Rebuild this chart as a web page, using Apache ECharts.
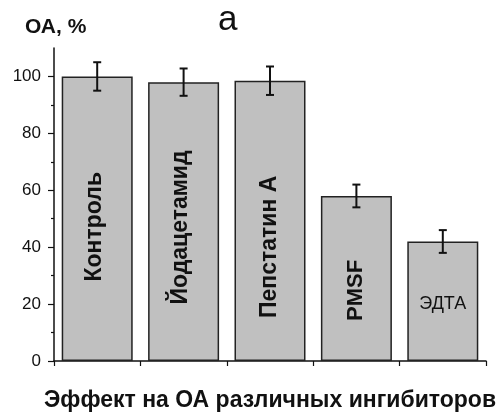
<!DOCTYPE html>
<html>
<head>
<meta charset="utf-8">
<script src="https://cdn.jsdelivr.net/npm/echarts@6/dist/echarts.min.js"></script>
<style>
  html, body { margin: 0; padding: 0; background: #fff; }
  #chart { width: 502px; height: 417px; }
</style>
</head>
<body>
<div id="chart"></div>
<script>
// Inhibitor effect on activity (ОА, % of control)
const categories = ['Контроль', 'Йодацетамид', 'Пепстатин А', 'PMSF', 'ЭДТА'];
const activity = [100, 98, 98.5, 58, 42];
const errors = [5, 4.8, 5, 4, 4];
const yLabelTicks = [0, 20, 40, 60, 80, 100];
const yMinorTicks = [10, 30, 50, 70, 90];

const FONT = 'Liberation Sans, Arial, sans-serif';

// per-bar label placement inside the bars (offset is in the rotated frame:
// negative x moves a vertical label down the bar, negative y moves it left)
const labelStyles = [
  { rotate: 90, offset: [-8, -3], fontWeight: 'bold', fontSize: 23 },
  { rotate: 90, offset: [-6, -3], fontWeight: 'bold', fontSize: 23 },
  { rotate: 90, offset: [-26, 0], fontWeight: 'bold', fontSize: 23 },
  { rotate: 90, offset: [-12, 0], fontWeight: 'bold', fontSize: 22 },
  { rotate: 0, offset: [0, 3], fontWeight: 'normal', fontSize: 18 }
];

const barData = activity.map((v, i) => ({
  value: v,
  label: Object.assign({ show: true, position: 'inside', color: '#111', fontFamily: FONT }, labelStyles[i], {
    formatter: categories[i]
  })
}));

const errData = activity.map((v, i) => [i, v - errors[i], v + errors[i]]);

const chart = echarts.init(document.getElementById('chart'), null, { renderer: 'canvas' });
chart.setOption({
  backgroundColor: '#fff',
  animation: false,
  title: [
    { text: 'ОА, %', left: 20, top: 12,
      textStyle: { fontFamily: FONT, fontSize: 21, fontWeight: 'bold', color: '#111' } },
    { text: 'a', left: 213, top: -2,
      textStyle: { fontFamily: FONT, fontSize: 35, fontWeight: 'normal', color: '#111' } }
  ],
  grid: { left: 54, right: 16, top: 48, bottom: 49, containLabel: false },
  xAxis: {
    type: 'category',
    data: categories,
    boundaryGap: true,
    axisLine: { show: true, lineStyle: { color: '#111', width: 1.5 } },
    axisTick: { show: true, interval: 0, alignWithLabel: false, length: 5, lineStyle: { color: '#111', width: 1.2 } },
    axisLabel: { show: false },
    name: 'Эффект на ОА различных ингибиторов',
    nameLocation: 'middle',
    nameGap: 28,
    nameTextStyle: { fontFamily: FONT, fontSize: 23, fontWeight: 'bold', color: '#111' }
  },
  yAxis: [
    {
      type: 'value', min: 0, max: 110,
      axisLine: { show: true, lineStyle: { color: '#111', width: 1.5 } },
      axisTick: { show: true, length: 6, customValues: yLabelTicks, lineStyle: { color: '#111', width: 1.2 } },
      axisLabel: { show: true, customValues: yLabelTicks, margin: 13,
        fontFamily: FONT, fontSize: 17, color: '#111' },
      splitLine: { show: false }
    },
    {
      type: 'value', min: 0, max: 110, position: 'left',
      axisLine: { show: false },
      axisTick: { show: true, length: 3, customValues: yMinorTicks, lineStyle: { color: '#111', width: 1.2 } },
      axisLabel: { show: false },
      splitLine: { show: false }
    }
  ],
  series: [
    {
      type: 'bar',
      data: barData,
      barWidth: 71,
      itemStyle: { color: '#c0c0c0', borderColor: '#222', borderWidth: 1.5 }
    },
    {
      type: 'custom',
      data: errData,
      z: 10,
      renderItem: function (params, api) {
        const x = api.value(0);
        const lo = api.coord([x, api.value(1)]);
        const hi = api.coord([x, api.value(2)]);
        const cap = 4;
        const style = { stroke: '#111', lineWidth: 2 };
        return {
          type: 'group',
          children: [
            { type: 'line', shape: { x1: lo[0], y1: lo[1], x2: hi[0], y2: hi[1] }, style: style },
            { type: 'line', shape: { x1: lo[0] - cap, y1: lo[1], x2: lo[0] + cap, y2: lo[1] }, style: style },
            { type: 'line', shape: { x1: hi[0] - cap, y1: hi[1], x2: hi[0] + cap, y2: hi[1] }, style: style }
          ]
        };
      }
    }
  ]
});
</script>
</body>
</html>
